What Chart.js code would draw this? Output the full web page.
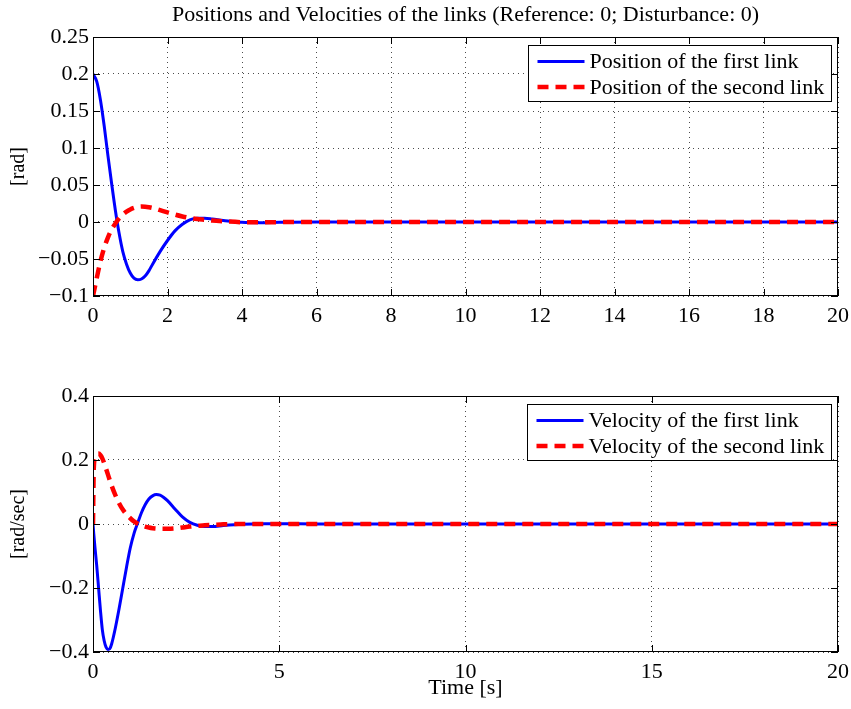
<!DOCTYPE html>
<html>
<head>
<meta charset="utf-8">
<script src="https://cdn.jsdelivr.net/npm/chart.js@4.4.1/dist/chart.umd.min.js"></script>
<style>
  html, body { margin: 0; padding: 0; background: #fff; }
  #wrap { position: relative; width: 851px; height: 709px; }
  canvas { position: absolute; left: 0; }
</style>
</head>
<body>
<div id="wrap">
  <canvas id="posChart" width="851" height="340" style="top:0"></canvas>
  <canvas id="velChart" width="851" height="369" style="top:340px"></canvas>
</div>
<script>
'use strict';

// ---- data ----
const posTime = [0, 0.1, 0.2, 0.3, 0.4, 0.5, 0.6, 0.7, 0.8, 0.9, 1.0, 1.1, 1.2, 1.3, 1.4, 1.5, 1.6,
  1.8, 2.0, 2.2, 2.4, 2.6, 2.8, 3.0, 3.2, 3.5, 4.0, 4.5, 5, 6, 8, 10, 12, 14, 16, 18, 20];
const posFirst = [0.2, 0.19, 0.165, 0.13, 0.09, 0.052, 0.016, -0.015, -0.04, -0.057, -0.069, -0.076, -0.078, -0.077, -0.073, -0.066, -0.057,
  -0.040, -0.025, -0.012, -0.003, 0.003, 0.005, 0.005, 0.004, 0.002, -0.0005, -0.001, -0.0005, 0, 0, 0, 0, 0, 0, 0, 0];
const posSecond = [-0.1, -0.076, -0.053, -0.035, -0.021, -0.01, -0.002, 0.005, 0.010, 0.014, 0.017, 0.019, 0.0205, 0.021, 0.0207, 0.020, 0.019,
  0.016, 0.013, 0.010, 0.0075, 0.0055, 0.004, 0.003, 0.002, 0.001, -0.0003, -0.0005, -0.0002, 0, 0, 0, 0, 0, 0, 0, 0];

const velTime = [0, 0.02, 0.05, 0.1, 0.15, 0.2, 0.25, 0.3, 0.35, 0.4, 0.45, 0.5,
  0.6, 0.7, 0.8, 0.9, 1.0, 1.1, 1.2, 1.3, 1.4, 1.5, 1.6, 1.7, 1.8, 1.9, 2.0,
  2.2, 2.4, 2.6, 2.8, 3.0, 3.2, 3.5, 4.0, 4.5, 5, 6, 8, 10, 12, 14, 16, 18, 20];
const velFirst = [0, -0.03, -0.07, -0.13, -0.2, -0.27, -0.33, -0.365, -0.385, -0.392, -0.39, -0.375,
  -0.325, -0.265, -0.2, -0.135, -0.075, -0.03, 0.003, 0.035, 0.06, 0.078, 0.088, 0.092, 0.09, 0.083, 0.073,
  0.047, 0.022, 0.005, -0.004, -0.008, -0.008, -0.005, -0.001, 0.001, 0.001, 0, 0, 0, 0, 0, 0, 0, 0];
const velSecond = [0, 0.17, 0.205, 0.218, 0.22, 0.215, 0.205, 0.19, 0.173, 0.155, 0.137, 0.12,
  0.09, 0.065, 0.045, 0.03, 0.018, 0.008, 0.001, -0.004, -0.008, -0.011, -0.013, -0.014, -0.015, -0.015, -0.015,
  -0.014, -0.011, -0.008, -0.006, -0.004, -0.003, -0.001, 0, 0, 0, 0, 0, 0, 0, 0, 0, 0, 0];

const posXTicks = [0, 2, 4, 6, 8, 10, 12, 14, 16, 18, 20];
const velXTicks = [0, 5, 10, 15, 20];
const posYTicks = [-0.1, -0.05, 0, 0.05, 0.1, 0.15, 0.2, 0.25];
const velYTicks = [-0.4, -0.2, 0, 0.2, 0.4];

const SERIF = "'Liberation Serif', 'Times New Roman', serif";

function pts(xs, ys) { return xs.map((x, i) => ({ x: x, y: ys[i] })); }
function fmt(v) {
  const r = Math.round(v * 100) / 100;
  return r < 0 ? '\u2212' + String(-r) : String(r);
}

// MATLAB-like box, inward ticks, title over the axes and legend
const matlabBox = {
  id: 'matlabBox',
  afterDatasetsDraw(chart, args, opts) {
    const { ctx, chartArea: a, scales } = chart;
    ctx.save();
    ctx.strokeStyle = '#000';
    ctx.lineWidth = 1;
    ctx.setLineDash([]);
    ctx.strokeRect(Math.round(a.left) + 0.5, Math.round(a.top) + 0.5,
      Math.round(a.width) - 1, Math.round(a.height) - 1);
    ctx.beginPath();
    scales.x.ticks.forEach(t => {
      const px = Math.round(scales.x.getPixelForValue(t.value)) + 0.5;
      ctx.moveTo(px, a.bottom); ctx.lineTo(px, a.bottom - 7);
      ctx.moveTo(px, a.top); ctx.lineTo(px, a.top + 7);
    });
    scales.y.ticks.forEach(t => {
      const py = Math.round(scales.y.getPixelForValue(t.value)) + 0.5;
      ctx.moveTo(a.left, py); ctx.lineTo(a.left + 7, py);
      ctx.moveTo(a.right, py); ctx.lineTo(a.right - 7, py);
    });
    ctx.stroke();

    ctx.font = '22px ' + SERIF;
    ctx.fillStyle = '#000';
    ctx.textBaseline = 'middle';

    if (opts.title) {
      ctx.textAlign = 'center';
      ctx.fillText(opts.title, (a.left + a.right) / 2, 15);
    }

    // legend box in the upper right
    const sets = chart.data.datasets;
    const textW = Math.max(...sets.map(d => ctx.measureText(d.label).width));
    const sample = 47, padL = 9, gap = 5, padR = 7, rowH = 25.5;
    const boxW = Math.round(padL + sample + gap + textW + padR);
    const boxH = 56;
    const bx = Math.round(a.right - 7 - boxW) + 0.5;
    const by = Math.round(a.top + 8) + 0.5;
    ctx.fillStyle = '#fff';
    ctx.fillRect(bx, by, boxW, boxH);
    ctx.strokeRect(bx, by, boxW, boxH);
    sets.forEach((d, i) => {
      const cy = by + 16 + i * rowH;
      ctx.beginPath();
      ctx.strokeStyle = d.borderColor;
      ctx.lineWidth = d.borderWidth;
      ctx.setLineDash(d.borderDash || []);
      ctx.moveTo(bx + padL, cy);
      ctx.lineTo(bx + padL + sample, cy);
      ctx.stroke();
      ctx.setLineDash([]);
      ctx.fillStyle = '#000';
      ctx.textAlign = 'left';
      ctx.fillText(d.label, bx + padL + sample + gap, cy + 1);
    });
    ctx.restore();
  }
};

function makeChart(id, cfg) {
  const canvas = document.getElementById(id);
  const ctx = canvas.getContext('2d');
  return new Chart(ctx, {
    type: 'line',
    data: {
      datasets: [
        {
          label: cfg.labels[0],
          data: pts(cfg.time, cfg.first),
          borderColor: '#0000ff',
          borderWidth: 3,
          pointRadius: 0,
          cubicInterpolationMode: 'monotone',
          fill: false,
          order: 2
        },
        {
          label: cfg.labels[1],
          data: pts(cfg.time, cfg.second),
          borderColor: '#ff0000',
          borderWidth: 4.5,
          borderDash: [11, 7],
          pointRadius: 0,
          cubicInterpolationMode: 'monotone',
          fill: false,
          order: 1
        }
      ]
    },
    options: {
      responsive: false,
      animation: false,
      layout: { padding: { left: 0, right: 13, top: cfg.padTop, bottom: 0 } },
      plugins: {
        legend: { display: false },
        tooltip: { enabled: false },
        title: { display: false },
        matlabBox: { title: cfg.title }
      },
      scales: {
        x: {
          type: 'linear',
          min: 0,
          max: 20,
          afterBuildTicks: s => { s.ticks = cfg.xTicks.map(v => ({ value: v })); },
          afterFit: s => { s.height = cfg.xHeight; s.paddingLeft = 0; s.paddingRight = 0; },
          grid: { color: 'rgba(0,0,0,0.7)', drawTicks: false, lineWidth: 1 },
          border: { display: false, dash: [1, 4] },
          ticks: {
            color: '#000',
            padding: 7,
            maxRotation: 0,
            font: { family: SERIF, size: 22 },
            callback: v => fmt(v)
          },
          title: cfg.xTitle ? {
            display: true,
            text: cfg.xTitle,
            color: '#000',
            font: { family: SERIF, size: 22, lineHeight: 1.2 },
            padding: { top: 8, bottom: 8 }
          } : { display: false }
        },
        y: {
          min: cfg.yMin,
          max: cfg.yMax,
          afterBuildTicks: s => { s.ticks = cfg.yTicks.map(v => ({ value: v })); },
          afterFit: s => { s.width = 93; s.paddingTop = 0; s.paddingBottom = 0; },
          grid: { color: 'rgba(0,0,0,0.7)', drawTicks: false, lineWidth: 1 },
          border: { display: false, dash: [1, 4] },
          ticks: {
            color: '#000',
            padding: 4,
            font: { family: SERIF, size: 22 },
            callback: v => fmt(v)
          },
          title: {
            display: true,
            text: cfg.yTitle,
            color: '#000',
            font: { family: SERIF, size: 20, lineHeight: 1.2 },
            padding: { top: 7, bottom: 7 }
          }
        }
      }
    },
    plugins: [matlabBox]
  });
}

makeChart('posChart', {
  time: posTime, first: posFirst, second: posSecond,
  labels: ['Position of the first link', 'Position of the second link'],
  title: 'Positions and Velocities of the links (Reference: 0; Disturbance: 0)',
  yTitle: '[rad]', xTitle: null,
  yMin: -0.1, yMax: 0.25, yTicks: posYTicks, xTicks: posXTicks,
  padTop: 37, xHeight: 44
});

makeChart('velChart', {
  time: velTime, first: velFirst, second: velSecond,
  labels: ['Velocity of the first link', 'Velocity of the second link'],
  title: null,
  yTitle: '[rad/sec]', xTitle: 'Time [s]',
  yMin: -0.4, yMax: 0.4, yTicks: velYTicks, xTicks: velXTicks,
  padTop: 56, xHeight: 57
});
</script>
</body>
</html>
